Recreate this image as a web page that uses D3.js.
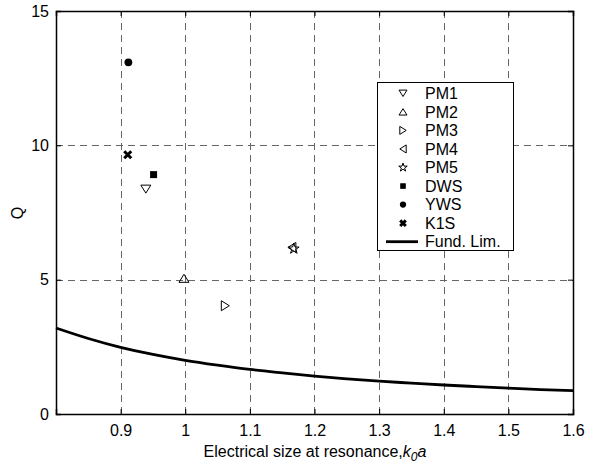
<!DOCTYPE html>
<html>
<head>
<meta charset="utf-8">
<script src="https://cdn.jsdelivr.net/npm/d3@7"></script>
<style>
  body { margin: 0; background: #fff; }
  svg { display: block; font-family: "Liberation Sans", Arial, sans-serif; }
</style>
</head>
<body>
<div id="chart"></div>
<script>
// measured designs
const seriesNames = ["PM1", "PM2", "PM3", "PM4", "PM5", "DWS", "YWS", "K1S"];
const kaValues = [0.939, 0.998, 1.062, 1.165, 1.168, 0.951, 0.912, 0.911];
const qValues = [8.37, 5.05, 4.03, 6.2, 6.15, 8.91, 13.09, 9.65];

// fundamental limit curve
const limitKa = [0.8, 0.85, 0.9, 0.95, 1.0, 1.05, 1.1, 1.15, 1.2, 1.25, 1.3, 1.35, 1.4, 1.45, 1.5, 1.55, 1.6];
const limitQ = [3.20, 2.81, 2.48, 2.22, 2.00, 1.82, 1.66, 1.53, 1.41, 1.31, 1.22, 1.15, 1.08, 1.02, 0.96, 0.91, 0.87];

const xTicks = [0.9, 1.0, 1.1, 1.2, 1.3, 1.4, 1.5, 1.6];
const yTicks = [0, 5, 10, 15];

const markerShapes = {
    PM1: "triDown", PM2: "triUp", PM3: "triRight", PM4: "triLeft",
    PM5: "star", DWS: "square", YWS: "circle", K1S: "cross"
};

const width = 602, height = 466;
const plot = { left: 56, right: 573, top: 11, bottom: 414 };
const fontSize = 16;

const x = d3.scaleLinear().domain([0.8, 1.6]).range([plot.left, plot.right]);
const y = d3.scaleLinear().domain([0, 15]).range([plot.bottom, plot.top]);

const svg = d3.select("#chart").append("svg")
    .attr("width", width).attr("height", height);

svg.append("rect").attr("width", width).attr("height", height).attr("fill", "#fff");

// grid
const grid = svg.append("g").attr("stroke", "#666").attr("stroke-width", 1)
    .attr("stroke-dasharray", "7,5");
grid.selectAll(".vg").data(xTicks.filter(t => t < 1.6)).enter().append("line")
    .attr("x1", d => Math.round(x(d)) + 0.5).attr("x2", d => Math.round(x(d)) + 0.5)
    .attr("y1", plot.top).attr("y2", plot.bottom);
grid.selectAll(".hg").data(yTicks.filter(t => t > 0 && t < 15)).enter().append("line")
    .attr("y1", d => Math.round(y(d)) + 0.5).attr("y2", d => Math.round(y(d)) + 0.5)
    .attr("x1", plot.left).attr("x2", plot.right);

// axes
svg.append("g").attr("transform", `translate(0,${plot.bottom})`)
    .call(d3.axisBottom(x).tickValues(xTicks).tickSize(-5).tickPadding(11)
        .tickFormat(d => String(+d.toFixed(1))));
svg.append("g").attr("transform", `translate(${plot.left},0)`)
    .call(d3.axisLeft(y).tickValues(yTicks).tickSize(-5).tickPadding(7));
svg.append("g").attr("transform", `translate(0,${plot.top})`)
    .call(d3.axisTop(x).tickValues(xTicks).tickSize(-5).tickFormat(""));
svg.append("g").attr("transform", `translate(${plot.right},0)`)
    .call(d3.axisRight(y).tickValues(yTicks).tickSize(-5).tickFormat(""));

svg.selectAll(".domain").attr("stroke", "#000").attr("stroke-width", 1.5);
svg.selectAll(".tick line").attr("stroke", "#000");
svg.selectAll(".tick text").attr("font-size", fontSize).attr("fill", "#000")
    .attr("font-family", "Liberation Sans, Arial, sans-serif");

// axis titles
const xl = svg.append("text").attr("x", 315).attr("y", 457)
    .attr("text-anchor", "middle").attr("font-size", fontSize).attr("fill", "#000");
xl.append("tspan").text("Electrical size at resonance,");
xl.append("tspan").attr("font-style", "italic").text("k");
xl.append("tspan").attr("font-style", "italic").attr("font-size", 12).attr("dy", 4).text("0");
xl.append("tspan").attr("font-style", "italic").attr("dy", -4).text("a");

svg.append("text").attr("transform", "translate(23,213) rotate(-90)")
    .attr("text-anchor", "middle").attr("font-size", fontSize).text("Q");

// limit curve
const line = d3.line().x((d, i) => x(limitKa[i])).y(d => y(d)).curve(d3.curveMonotoneX);
svg.append("path").datum(limitQ).attr("d", line)
    .attr("fill", "none").attr("stroke", "#000").attr("stroke-width", 2.8);

function drawMarker(g, shape, s) {
    const tri = `M0,${-0.8 * s}L${s},${0.8 * s}L${-s},${0.8 * s}Z`;
    const rot = { triUp: 0, triDown: 180, triRight: 90, triLeft: -90 };
    if (shape in rot) {
        g.append("path").attr("d", tri).attr("transform", `rotate(${rot[shape]})`)
            .attr("fill", "none").attr("stroke", "#000").attr("stroke-width", 1);
    } else if (shape === "star") {
        g.append("path").attr("d", d3.symbol(d3.symbolStar, s * s * 1.4)())
            .attr("fill", "none").attr("stroke", "#000").attr("stroke-width", 1);
    } else if (shape === "square") {
        g.append("rect").attr("x", -s * 0.7).attr("y", -s * 0.7)
            .attr("width", s * 1.4).attr("height", s * 1.4).attr("fill", "#000");
    } else if (shape === "circle") {
        g.append("circle").attr("r", s * 0.78).attr("fill", "#000");
    } else if (shape === "cross") {
        const c = s * 0.7;
        g.append("path").attr("d", `M${-c},${-c}L${c},${c}M${-c},${c}L${c},${-c}`)
            .attr("stroke", "#000").attr("stroke-width", 3);
    }
}

// data points
seriesNames.forEach((name, i) => {
    const g = svg.append("g").attr("transform", `translate(${x(kaValues[i])},${y(qValues[i])})`);
    drawMarker(g, markerShapes[name], 5);
});

// legend
const legend = svg.append("g");
legend.append("rect").attr("x", 377.5).attr("y", 82.5).attr("width", 136).attr("height", 168)
    .attr("fill", "#fff").attr("stroke", "#000").attr("stroke-width", 1);
const legendNames = seriesNames.concat(["Fund. Lim."]);
legendNames.forEach((name, i) => {
    const ly = 93.3 + i * 18.55;
    if (i < seriesNames.length) {
        const g = legend.append("g").attr("transform", `translate(403,${ly})`);
        drawMarker(g, markerShapes[name], 4);
    } else {
        legend.append("line").attr("x1", 386).attr("x2", 418).attr("y1", ly).attr("y2", ly)
            .attr("stroke", "#000").attr("stroke-width", 2.8);
    }
    legend.append("text").attr("x", 425).attr("y", ly).attr("dy", "0.36em")
        .attr("font-size", fontSize).attr("fill", "#000").text(name);
});
</script>
</body>
</html>
